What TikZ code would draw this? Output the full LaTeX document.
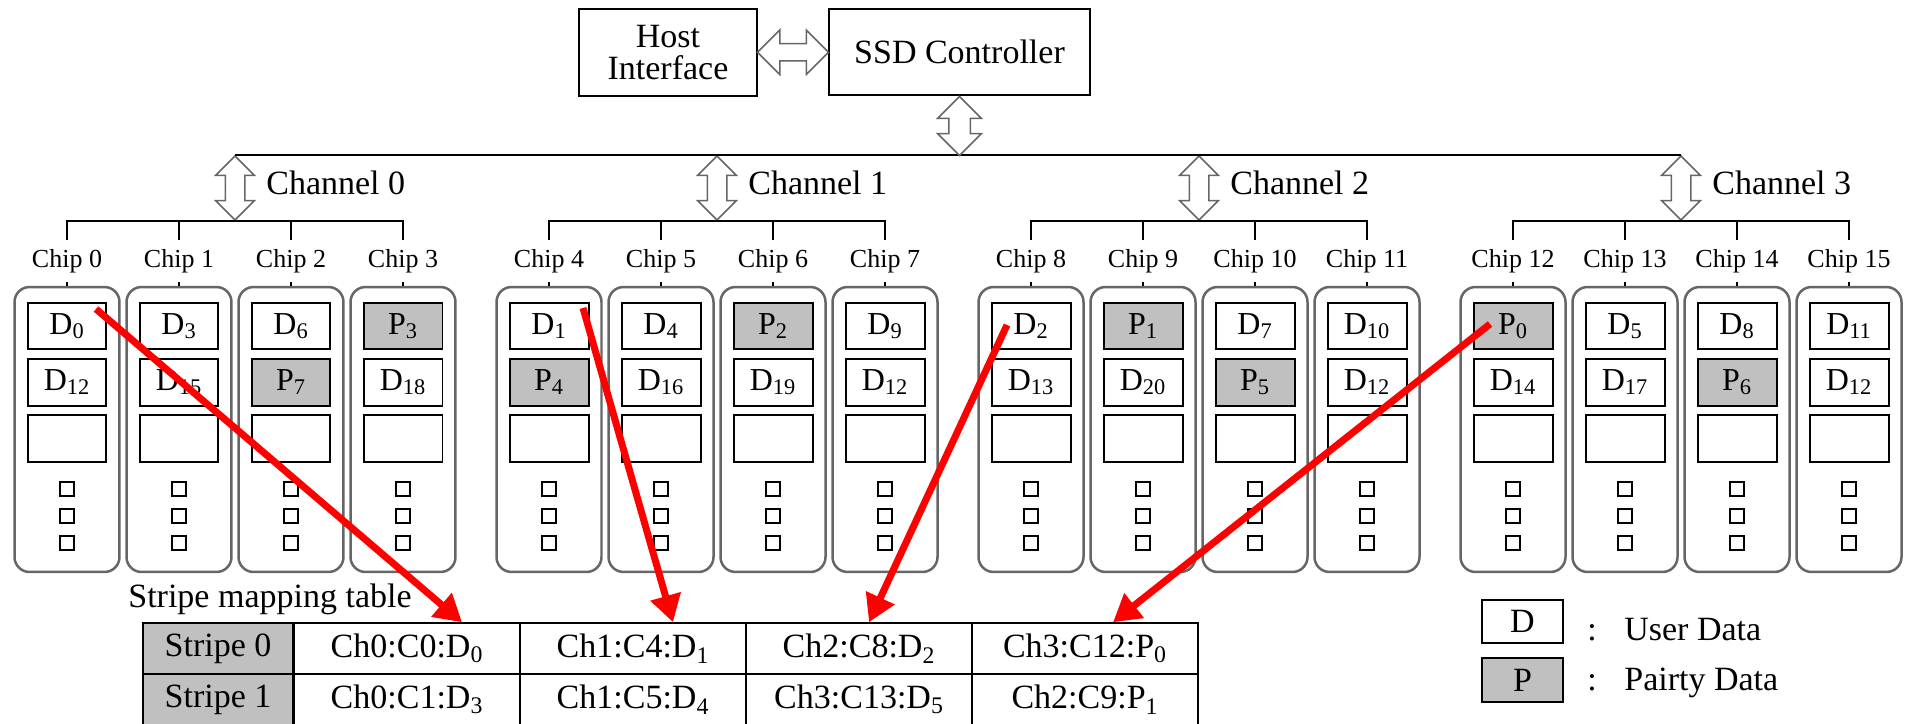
\documentclass[tikz,border=0pt]{standalone}
\usepackage{fontspec}
\setmainfont{Liberation Serif}
\usetikzlibrary{calc, arrows.meta, shapes.arrows}

\definecolor{pgray}{RGB}{192,192,192}
\newcommand{\txtbig}{\fontsize{19.35}{18.2}\selectfont}
\newcommand{\txtblk}{\fontsize{18.2}{20}\selectfont}
\newcommand{\txtchip}{\fontsize{14.8}{17}\selectfont}

\begin{document}
\begin{tikzpicture}[x=0.02cm, y=-0.02cm,
  ctrlbox/.style={draw, line width=0.035cm, font=\txtbig, align=center, inner sep=0pt},
  dblarrow/.style={double arrow, draw=black!60, fill=white, line width=0.03cm, inner sep=0pt, double arrow head indent=0pt},
  chipbox/.style={draw=black!60, line width=0.05cm, rounded corners=0.3cm, minimum width=2.1cm, minimum height=5.7cm, inner sep=0pt},
  chiplabel/.style={font=\txtchip, inner xsep=0pt, inner ysep=0.18cm, anchor=base},
  blkD/.style={draw, line width=0.04cm, minimum width=1.58cm, minimum height=0.94cm, inner sep=0pt, font=\txtblk},
  blkP/.style={blkD, fill=pgray},
  slot/.style={draw, line width=0.03cm, minimum size=0.28cm, inner sep=0pt},
  tcell/.style={draw, line width=0.03cm, minimum width=4.52cm, minimum height=1.02cm, inner sep=0pt, font=\txtbig},
  hcell/.style={tcell, fill=pgray, line width=0.05cm, minimum width=3cm},
  redarrow/.style={red, line width=0.14cm, -{Triangle[length=0.54cm, width=0.6cm]}}]

        % page size of the reference (in pixels)
        \useasboundingbox (0,0) rectangle (1905,723);

        % host side
        \node[ctrlbox, minimum width=3.56cm, minimum height=1.74cm] (host) at (668,52.5) {Host\\Interface};
        \node[ctrlbox, minimum width=5.22cm, minimum height=1.72cm] (ssd) at (959.5,52) {SSD Controller};
        \node[dblarrow, minimum height=1.42cm, inner ysep=0.16cm, double arrow head extend=0.27cm] (ha) at ($(host.east)!.5!(ssd.west)$) {};

        % channels
	\foreach \c in {0,...,3} {
		\pgfmathsetmacro\ax{235+482*\c}
		\node[dblarrow, rotate=90, minimum height=1.28cm, inner ysep=0.18cm, double arrow head extend=0.19cm] (ch\c) at (\ax,188) {};
		\node[font=\txtbig, anchor=base west, inner sep=0pt] (cl\c) at (\ax+31,194) {Channel \c};
	}
	\draw[line width=0.03cm] (ch0.east) -- (ch3.east);
        \node[dblarrow, rotate=90, minimum height=1.18cm, inner ysep=0.2cm, double arrow head extend=0.22cm] (sa) at (959.5,126) {};

        % chips with their pages
	\foreach \n/\ta/\na/\tb/\nb in {0/D/0/D/12, 1/D/3/D/15, 2/D/6/P/7, 3/P/3/D/18,
		4/D/1/P/4, 5/D/4/D/16, 6/P/2/D/19, 7/D/9/D/12,
		8/D/2/D/13, 9/P/1/D/20, 10/D/7/P/5, 11/D/10/D/12,
		12/P/0/D/14, 13/D/5/D/17, 14/D/8/P/6, 15/D/11/D/12} {
		\pgfmathsetmacro\cx{67+482*int(\n/4)+112*mod(\n,4)}
		\node[chiplabel] (lab\n) at (\cx,267) {Chip \n};
		\node[chipbox] (chip\n) at (\cx,429.5) {};
		\draw[line width=0.03cm] (lab\n.south) -- (chip\n.north);
		\node[blk\ta] (b\n-1) at (\cx,326) {\ta\textsubscript{\na}};
		\node[blk\tb] (b\n-2) at (\cx,382) {\tb\textsubscript{\nb}};
		\node[blkD] (b\n-3) at (\cx,438) {};
		\foreach \k in {0,1,2}
			\node[slot] (d\n-\k) at (\cx,{489+27*\k}) {};
	}
	\foreach \c in {0,...,3} {
		\pgfmathtruncatemacro\fa{4*\c}
		\pgfmathtruncatemacro\fb{4*\c+1}
		\pgfmathtruncatemacro\fc{4*\c+2}
		\pgfmathtruncatemacro\fd{4*\c+3}
		\draw[line width=0.03cm] (lab\fa.north) |- (ch\c.west) -| (lab\fd.north);
		\draw[line width=0.03cm] (lab\fb.north) -- (lab\fb.north |- ch\c.west);
		\draw[line width=0.03cm] (lab\fc.north) -- (lab\fc.north |- ch\c.west);
	}

        % stripe mapping table
        \node[font=\txtbig, anchor=base west, inner sep=0pt] (smt) at (128,607) {Stripe mapping table};
	\foreach \k/\txt in {1/{Ch0:C0:D\textsubscript{0}}, 2/{Ch1:C4:D\textsubscript{1}}, 3/{Ch2:C8:D\textsubscript{2}}, 4/{Ch3:C12:P\textsubscript{0}}}
		\node[tcell] (t0-\k) at (181+226*\k,648.5) {\txt};
	\foreach \k/\txt in {1/{Ch0:C1:D\textsubscript{3}}, 2/{Ch1:C5:D\textsubscript{4}}, 3/{Ch3:C13:D\textsubscript{5}}, 4/{Ch2:C9:P\textsubscript{1}}}
		\node[tcell] (t1-\k) at (181+226*\k,699.5) {\txt};
        \node[hcell] (s0) at (218,648.5) {Stripe 0};
        \node[hcell] (s1) at (218,699.5) {Stripe 1};

        % legend
        \node[blkD, minimum width=1.62cm, minimum height=0.86cm, font=\txtbig] (lgd) at (1522.5,621.5) {D};
        \node[blkP, minimum width=1.62cm, minimum height=0.88cm, font=\txtbig] (lgp) at (1522.5,680) {P};
        \node[font=\txtbig, anchor=base, inner sep=0pt] (cd) at (1592,640) {:};
        \node[font=\txtbig, anchor=base west, inner sep=0pt] (ud) at (1624,640) {User Data};
        \node[font=\txtbig, anchor=base, inner sep=0pt] (cp) at (1592,690) {:};
        \node[font=\txtbig, anchor=base west, inner sep=0pt] (pd) at (1624,690) {Pairty Data};

        % stripe 0 members
	\draw[redarrow] ($(b0-1.center)+(29,-17)$) -- ($(t0-1.north)+(55,0)$);
	\draw[redarrow] ($(b4-1.center)+(34,-18)$) -- ($(t0-2.north)+(40,0)$);
	\draw[redarrow] ($(b8-1.center)+(-24,-1)$) -- ($(t0-3.north)+(10,0)$);
	\draw[redarrow] ($(b12-1.center)+(-23,-2)$) -- ($(t0-4.north)+(28,0)$);

\end{tikzpicture}
\end{document}
